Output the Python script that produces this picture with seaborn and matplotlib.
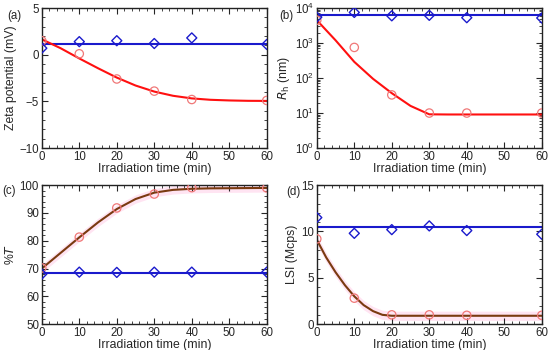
import numpy as np
import pandas as pd
import seaborn as sns
import matplotlib.pyplot as plt
from matplotlib.ticker import MultipleLocator, LogLocator, NullFormatter

# measured points
t_pts = [0, 10, 20, 30, 40, 60]
zeta_red = [1.5, 0.1, -2.6, -3.9, -4.8, -4.9]
zeta_blue = [0.7, 1.4, 1.5, 1.2, 1.8, 1.1]
rh_red = [4500, 750, 33, 10, 10, 10]
rh_blue = [5500, 7500, 6000, 6200, 5300, 5200]
trans_red = [70.2, 81.3, 91.8, 96.8, 99.1, 99.0]
trans_blue = [68.0, 68.7, 68.6, 68.7, 68.7, 68.7]
lsi_red = [9.2, 2.8, 1.0, 1.0, 0.95, 0.95]
lsi_blue = [11.5, 9.8, 10.2, 10.6, 10.1, 9.7]

# fitted curves
t_fit = [0, 5, 10, 15, 20, 25, 30, 35, 40, 45, 50, 55, 60]
zeta_fit = [1.65, 0.7, -0.4, -1.45, -2.45, -3.3, -3.95, -4.4, -4.68, -4.83, -4.9, -4.94, -4.95]
rh_fit = [4500, 1200, 290, 95, 37, 16, 9.2, 9.1, 9.1, 9.1, 9.1, 9.1, 9.1]
trans_fit = [70.0, 75.6, 81.2, 86.6, 91.4, 95.0, 97.3, 98.3, 98.7, 98.85, 98.9, 98.95, 99.0]
t_fit_d = [0, 2.5, 5, 7.5, 10, 12.5, 15, 17.5, 20, 30, 40, 50, 60]
lsi_fit = [9.1, 7.2, 5.6, 4.2, 3.0, 2.05, 1.4, 1.0, 0.9, 0.9, 0.9, 0.9, 0.9]
zeta_flat = 1.1
rh_flat = 6300
trans_flat = 68.5
lsi_flat = 10.5

sns.set_theme(style="ticks")
plt.rcParams['font.family'] = ['Liberation Sans', 'DejaVu Sans']

FS = 8.3
BLUE = '#1a1acc'
RED = '#ff1010'
PINK = '#f07878'
BROWN = '#7a3a10'

fig = plt.figure(figsize=(5.5, 3.5), dpi=100)
ax_a = fig.add_axes([0.076, 0.577, 0.409, 0.4])
ax_b = fig.add_axes([0.576, 0.577, 0.409, 0.4])
ax_c = fig.add_axes([0.076, 0.074, 0.409, 0.397])
ax_d = fig.add_axes([0.576, 0.074, 0.409, 0.397])


def draw(ax, red, blue, fit_x, fit_y, flat, fit_color, band=None):
    if band is not None:
        ax.fill_between(fit_x, np.array(fit_y) - band, np.array(fit_y) + band,
                        color='#ffe4f2', lw=0, zorder=0)
    sns.lineplot(x=[0, 60], y=[flat, flat], color=BLUE, lw=1.5, ax=ax, zorder=2)
    sns.lineplot(x=fit_x, y=fit_y, color=fit_color, lw=1.5, ax=ax, zorder=2)
    sns.scatterplot(x=t_pts, y=red, marker='o', s=36, fc='none', ec=PINK,
                    linewidth=0.9, ax=ax, zorder=3)
    sns.scatterplot(x=t_pts, y=blue, marker='D', s=26, fc='none', ec=BLUE,
                    linewidth=1.0, ax=ax, zorder=3)
    ax.set_xlim(0, 60)
    ax.xaxis.set_major_locator(MultipleLocator(10))
    ax.xaxis.set_minor_locator(MultipleLocator(2))
    ax.set_xlabel('Irradiation time (min)', fontsize=FS + 0.5, labelpad=0)
    ax.tick_params(which='both', direction='in', top=True, right=True,
                   labelsize=FS, pad=2)
    ax.tick_params(which='major', length=4, width=0.8)
    ax.tick_params(which='minor', length=2, width=0.6)
    for s in ax.spines.values():
        s.set_linewidth(1.0)
        s.set_color('#222222')


draw(ax_a, zeta_red, zeta_blue, t_fit, zeta_fit, zeta_flat, RED)
ax_a.set_ylim(-10, 5)
ax_a.yaxis.set_major_locator(MultipleLocator(5))
ax_a.yaxis.set_minor_locator(MultipleLocator(1))
ax_a.set_ylabel('Zeta potential (mV)', fontsize=FS + 0.5, labelpad=2)

draw(ax_b, rh_red, rh_blue, t_fit, rh_fit, rh_flat, RED)
ax_b.set_yscale('log')
ax_b.set_ylim(1, 1e4)
ax_b.yaxis.set_major_locator(LogLocator(base=10, numticks=10))
ax_b.yaxis.set_minor_locator(LogLocator(base=10, subs=np.arange(2, 10), numticks=10))
ax_b.yaxis.set_minor_formatter(NullFormatter())
ax_b.set_ylabel(r'$R_\mathrm{h}$ (nm)', fontsize=FS + 0.5, labelpad=2)

draw(ax_c, trans_red, trans_blue, t_fit, trans_fit, trans_flat, BROWN, band=1.5)
ax_c.set_ylim(50, 100)
ax_c.yaxis.set_major_locator(MultipleLocator(10))
ax_c.yaxis.set_minor_locator(MultipleLocator(2))
ax_c.set_ylabel(r'%$\it{T}$', fontsize=FS + 0.5, labelpad=2)

draw(ax_d, lsi_red, lsi_blue, t_fit_d, lsi_fit, lsi_flat, BROWN, band=0.5)
ax_d.set_ylim(0, 15)
ax_d.yaxis.set_major_locator(MultipleLocator(5))
ax_d.yaxis.set_minor_locator(MultipleLocator(1))
ax_d.set_ylabel('LSI (Mcps)', fontsize=FS + 0.5, labelpad=2)

for lab, x, y in [('(a)', 0.014, 0.955), ('(b)', 0.508, 0.955),
                  ('(c)', 0.004, 0.455), ('(d)', 0.52, 0.45)]:
    fig.text(x, y, lab, fontsize=FS, va='center', ha='left')

fig.savefig('out.png', dpi=100)
